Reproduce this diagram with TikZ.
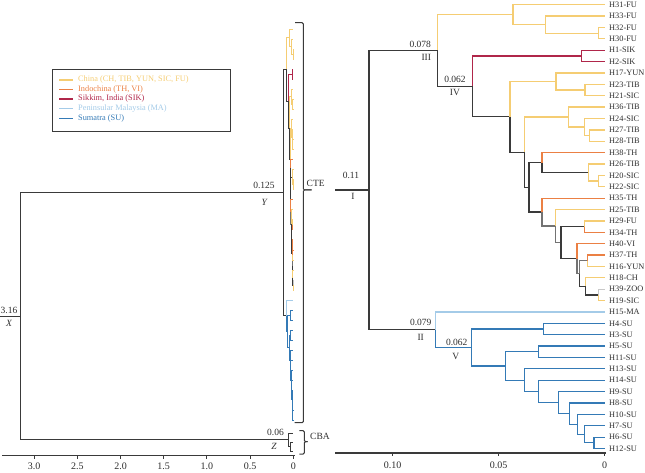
\documentclass[tikz,border=0pt]{standalone}
\usepackage{fontspec}
\setmainfont{Liberation Serif}

\definecolor{cChina}{RGB}{245,205,115}
\definecolor{cIndo}{RGB}{235,128,68}
\definecolor{cSik}{RGB}{176,38,74}
\definecolor{cMal}{RGB}{164,203,232}
\definecolor{cSum}{RGB}{52,122,182}
\definecolor{cDark}{RGB}{58,58,58}
\definecolor{cMix}{RGB}{115,115,115}
\definecolor{cZoo}{RGB}{200,200,200}
\definecolor{cText}{RGB}{45,45,45}

\tikzset{
 brK/.style={draw=cDark}, brY/.style={draw=cChina}, brO/.style={draw=cIndo},
 brR/.style={draw=cSik}, brLB/.style={draw=cMal}, brB/.style={draw=cSum},
 brG/.style={draw=cMix}, brZ/.style={draw=cZoo},
 leaflab/.style={anchor=west, inner sep=0pt, font=\fontsize{8.3}{9}\selectfont, text=cText},
 numlab/.style={inner sep=0pt, font=\fontsize{9.5}{10}\selectfont, text=cText},
 numital/.style={inner sep=0pt, font=\fontsize{9.5}{10}\selectfont\itshape, text=cText},
 ticklab/.style={inner sep=0pt, font=\fontsize{10}{11}\selectfont, text=cText},
 leglab/.style={anchor=west, inner sep=0pt, font=\fontsize{8.3}{9}\selectfont},
 axisline/.style={draw=cDark, line width=1.8pt},
 tickmark/.style={draw=cDark, line width=0.9pt},
 bracket/.style={draw=cDark, line width=1pt, rounded corners=1.2pt},
 legline/.style={line width=1.2pt},
}

\newcommand{\phylotree}{%
 \foreach \n/\i in {H31/0,H33/1,H32/2,H30/3,H1/4,H2/5,H17/6,H23/7,H21/8,H36/9,H24/10,H27/11,H28/12,H38/13,H26/14,H20/15,H22/16,H35/17,H25/18,H29/19,H34/20,H40/21,H37/22,H16/23,H18/24,H39/25,H19/26,H15/27,H4/28,H3/29,H5/30,H11/31,H13/32,H14/33,H9/34,H8/35,H10/36,H7/37,H6/38,H12/39}
  {\coordinate (\n) at (605,{4.7+11.38*\i});}%
 \coordinate (a1) at (598.7,33.15);
 \coordinate (a2) at (545.7,24.6);
 \coordinate (a3) at (513,14.65);
 \coordinate (s1) at (581.7,55.91);
 \coordinate (b1) at (585,90.05);
 \coordinate (b2) at (556,81.5);
 \coordinate (c1) at (589.3,135.57);
 \coordinate (c2) at (584.3,127.0);
 \coordinate (c3) at (568.7,117.06);
 \coordinate (d1) at (598.7,181.09);
 \coordinate (d2) at (588.3,172.56);
 \coordinate (d3) at (542,162.6);
 \coordinate (e1) at (584.3,226.61);
 \coordinate (f1) at (587.7,260.75);
 \coordinate (f2) at (598.7,294.89);
 \coordinate (f3) at (585.3,286.36);
 \coordinate (f4) at (579.3,273.55);
 \coordinate (f5) at (577,258.6);
 \coordinate (e2) at (561,242.6);
 \coordinate (e3) at (555.7,226.07);
 \coordinate (e4) at (542,212.1);
 \coordinate (d4) at (529,187.35);
 \coordinate (c4) at (524.3,152.2);
 \coordinate (b3) at (510,116.85);
 \coordinate (n4) at (472.7,86.38);
 \coordinate (n3) at (437.7,50.5);
 \coordinate (g1) at (543.3,329.03);
 \coordinate (g2) at (538.7,351.79);
 \coordinate (h1) at (594,442.83);
 \coordinate (h2) at (584.3,434.3);
 \coordinate (h3) at (577.7,424.34);
 \coordinate (h4) at (569.3,413.67);
 \coordinate (h5) at (558.7,402.65);
 \coordinate (h6) at (538.7,391.44);
 \coordinate (h7) at (524.3,380.15);
 \coordinate (g3) at (505.7,365.97);
 \coordinate (n5) at (471.7,347.5);
 \coordinate (n2) at (435.3,329.73);
 \coordinate (rI) at (369,190.1);
 \foreach \p/\c/\s in {
  rI/n3/brK, rI/n2/brK,
  n3/a3/brY, n3/n4/brK,
  a3/H31/brY, a3/a2/brY, a2/H33/brY, a2/a1/brY, a1/H32/brY, a1/H30/brY,
  n4/s1/brR, s1/H1/brR, s1/H2/brR,
  n4/b3/brK,
  b3/b2/brY, b2/H17/brY, b2/b1/brY, b1/H23/brY, b1/H21/brY,
  b3/c4/brK,
  c4/c3/brY, c3/H36/brY, c3/c2/brY, c2/H24/brY, c2/c1/brY, c1/H27/brY, c1/H28/brY,
  c4/d4/brK,
  d4/d3/brK, d3/H38/brO, d3/d2/brK, d2/H26/brY, d2/d1/brY, d1/H20/brY, d1/H22/brY,
  d4/e4/brK, e4/H35/brO, e4/e3/brG, e3/H25/brY, e3/e2/brG,
  e2/e1/brK, e1/H29/brY, e1/H34/brO,
  e2/f5/brK, f5/H40/brO, f5/f4/brG, f4/f1/brG, f1/H37/brO, f1/H16/brY,
  f4/f3/brK, f3/H18/brY, f3/f2/brK, f2/H39/brZ, f2/H19/brY,
  n2/H15/brLB, n2/n5/brB,
  n5/g1/brB, g1/H4/brB, g1/H3/brB,
  n5/g3/brB, g3/g2/brB, g2/H5/brB, g2/H11/brB,
  g3/h7/brB, h7/H13/brB, h7/h6/brB, h6/H14/brB, h6/h5/brB, h5/H9/brB,
  h5/h4/brB, h4/H8/brB, h4/h3/brB, h3/H10/brB, h3/h2/brB, h2/H7/brB,
  h2/h1/brB, h1/H6/brB, h1/H12/brB}
  {\draw[\s] (\p) |- (\c);}%
}

\begin{document}
\begin{tikzpicture}[x=1pt,y=-1pt]
\useasboundingbox (0,0) rectangle (645,473);

% ---------- left panel: compressed tree ----------
\begin{scope}[shift={(268.66,24.85)}, xscale=0.04075, yscale=0.8825, name prefix=L-, line width=0.8pt]
 \phylotree
\end{scope}

\coordinate (X0) at (0,316.3);
\coordinate (X) at (20,316.3);
\coordinate (Z) at (288.2,439.9);
\coordinate (z1) at (293.3,433);
\coordinate (z2) at (290.6,446.75);
\coordinate (z3) at (293.3,442.5);
\coordinate (z4) at (293.3,451);
\begin{scope}[line width=1pt]
 \draw[brK] (X0) -- (X);
 \draw[brK] (X) |- (L-rI);
 \draw[brK] (X) |- (Z);
\end{scope}
\begin{scope}[line width=0.8pt]
 \draw[brK] (Z) |- (z1);
 \draw[brK] (Z) |- (z2);
 \draw[brK] (z2) |- (z3);
 \draw[brK] (z2) |- (z4);
\end{scope}

\node[numlab] (lbY) at (264,185) {0.125};
\node[numital] (lbYn) at (264.3,202.7) {Y};
\node[numlab] (lbX) at (9,310) {3.16};
\node[numital] (lbXn) at (9,323.3) {X};
\node[numlab] (lbZ) at (275.5,432.7) {0.06};
\node[numital] (lbZn) at (274,446.7) {Z};

% brackets
\coordinate (cteT) at (295,22.7);
\coordinate (cteM) at (303.3,190);
\coordinate (cteTip) at (311.7,190);
\coordinate (cteB) at (294.5,422.7);
\draw[bracket] (cteT) -| (cteM) -- (cteTip);
\draw[bracket] (cteTip) -- (cteM) |- (cteB);
\node[numlab, anchor=west] (cteL) at (306.5,183.3) {CTE};

\coordinate (cbaT) at (299.3,430.7);
\coordinate (cbaM) at (304.3,441.7);
\coordinate (cbaTip) at (307.7,441.7);
\coordinate (cbaB) at (299.3,454);
\draw[bracket] (cbaT) -| (cbaM) -- (cbaTip);
\draw[bracket] (cbaTip) -- (cbaM) |- (cbaB);
\node[numlab, anchor=west] (cbaL) at (310,436.7) {CBA};

% left axis
\coordinate (axLa) at (2,455.5);
\coordinate (axLb) at (295,455.5);
\draw[axisline] (axLa) -- (axLb);
\foreach \v/\t/\k in {3.0/3.0/a,2.5/2.5/b,2.0/2.0/c,1.5/1.5/d,1.0/1.0/e,0.5/0.5/f,0/0/g}{
 \coordinate (tkL\k) at ({293.3-86.4*\v},455.5);
 \draw[tickmark] (tkL\k) -- ++(0,3);
 \node[ticklab] (tlL\k) at ({293.3-86.4*\v},466.7) {\t};
}

% legend
\coordinate (legA) at (52.7,69);
\coordinate (legB) at (230,131.7);
\draw[draw=cDark, line width=0.9pt] (legA) rectangle (legB);
\foreach \c/\y/\t/\k in {cChina/80/{China (CH, TIB, YUN, SIC, FU)}/1,
  cIndo/89.3/{Indochina (TH, VI)}/2,
  cSik/99/{Sikkim, India (SIK)}/3,
  cMal/108.7/{Peninsular Malaysia (MA)}/4,
  cSum/118.3/{Sumatra (SU)}/5}{
 \coordinate (lgs\k) at (59.3,\y);
 \coordinate (lge\k) at (73.3,\y);
 \draw[legline, draw=\c] (lgs\k) -- (lge\k);
 \node[leglab, text=\c] (lgt\k) at (78,\y) {\t};
}

% ---------- right panel ----------
\begin{scope}[line width=1.25pt]
 \phylotree
 \coordinate (rstem) at (335,190.1);
 \draw[brK] (rstem) -- (rI);
\end{scope}

\foreach \n/\t in {H31/H31-FU,H33/H33-FU,H32/H32-FU,H30/H30-FU,H1/H1-SIK,H2/H2-SIK,H17/H17-YUN,H23/H23-TIB,H21/H21-SIC,H36/H36-TIB,H24/H24-SIC,H27/H27-TIB,H28/H28-TIB,H38/H38-TH,H26/H26-TIB,H20/H20-SIC,H22/H22-SIC,H35/H35-TH,H25/H25-TIB,H29/H29-FU,H34/H34-TH,H40/H40-VI,H37/H37-TH,H16/H16-YUN,H18/H18-CH,H39/H39-ZOO,H19/H19-SIC,H15/H15-MA,H4/H4-SU,H3/H3-SU,H5/H5-SU,H11/H11-SU,H13/H13-SU,H14/H14-SU,H9/H9-SU,H8/H8-SU,H10/H10-SU,H7/H7-SU,H6/H6-SU,H12/H12-SU}
 {\node[leaflab] (lab\n) at ([xshift=4pt]\n) {\t};}

\node[numlab] (lb1) at (351,175) {0.11};
\node[numlab] (lb1n) at (353,196.7) {I};
\node[numlab] (lb3) at (420.2,44.3) {0.078};
\node[numlab] (lb3n) at (426.3,57.3) {III};
\node[numlab] (lb4) at (455,79) {0.062};
\node[numlab] (lb4n) at (455,92.3) {IV};
\node[numlab] (lb2) at (420.8,322.7) {0.079};
\node[numlab] (lb2n) at (420.7,337.3) {II};
\node[numlab] (lb5) at (456.8,342) {0.062};
\node[numlab] (lb5n) at (455.7,356.7) {V};

% right axis
\coordinate (axRa) at (335,452.7);
\coordinate (axRb) at (605.5,452.7);
\draw[axisline] (axRa) -- (axRb);
\foreach \v/\t/\k in {0.10/0.10/a,0.05/0.05/b,0/0/c}{
 \coordinate (tkR\k) at ({604.7-2120*\v},452.7);
 \draw[tickmark] (tkR\k) -- ++(0,3);
 \node[ticklab] (tlR\k) at ({604.7-2120*\v},465.7) {\t};
}
\end{tikzpicture}
\end{document}
